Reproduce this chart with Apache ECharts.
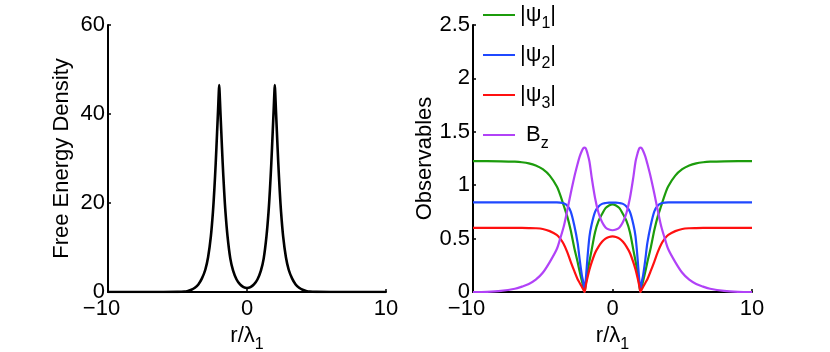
<!DOCTYPE html>
<html>
<head>
<meta charset="utf-8">
<script src="https://cdn.jsdelivr.net/npm/echarts@6/dist/echarts.min.js"></script>
<style>
  html, body { margin: 0; padding: 0; background: #fff; }
  #chart { width: 830px; height: 352px; }
</style>
</head>
<body>
<div id="chart"></div>
<script>
/*************************** chart data ***************************/

// left panel : free energy density vs r/lambda_1
var rFree = [-10, -8, -6, -5, -4.5, -4.25, -4, -3.75, -3.5, -3.25,
  -3, -2.8, -2.6, -2.45, -2.35, -2.25, -2.15, -2.08, -2.03, -2,
  -1.97, -1.92, -1.85, -1.75, -1.65, -1.55, -1.4, -1.2, -1, -0.75,
  -0.5, -0.25, 0, 0.25, 0.5,
  0.75, 1, 1.2, 1.4, 1.55, 1.65, 1.75, 1.85, 1.92, 1.97,
  2, 2.03, 2.08, 2.15, 2.25, 2.35, 2.45, 2.6, 2.8, 3,
  3.25, 3.5, 3.75, 4, 4.25, 4.5, 5, 6, 8, 10];
var freeEnergy = [0, 0, 0, 0.02, 0.1, 0.25, 0.5, 0.95, 1.7, 3.0,
  5.0, 7.8, 12.5, 18, 23, 29, 36, 41, 44.8, 46.5,
  44.8, 41, 36, 29, 23, 18, 12.5, 7.5, 4.8, 2.8,
  1.7, 1.1, 0.9, 1.1, 1.7,
  2.8, 4.8, 7.5, 12.5, 18, 23, 29, 36, 41, 44.8,
  46.5, 44.8, 41, 36, 29, 23, 18, 12.5, 7.8, 5.0,
  3.0, 1.7, 0.95, 0.5, 0.25, 0.1, 0.02, 0, 0, 0];

// right panel : observables vs r/lambda_1
var rObs = [-10, -9, -8, -7, -6.5, -6, -5.5, -5, -4.5, -4,
  -3.75, -3.5, -3.25, -3, -2.75, -2.5, -2.35, -2.2, -2.1, -2.05,
  -2, -1.95, -1.9, -1.8, -1.65, -1.5, -1.25, -1, -0.75, -0.5,
  -0.25, 0, 0.25,
  0.5, 0.75, 1, 1.25, 1.5, 1.65, 1.8, 1.9, 1.95, 2,
  2.05, 2.1, 2.2, 2.35, 2.5, 2.75, 3, 3.25, 3.5, 3.75,
  4, 4.5, 5, 5.5, 6, 6.5, 7, 8, 9, 10];
var psi1 = [1.225, 1.225, 1.224, 1.22, 1.215, 1.205, 1.185, 1.15, 1.09, 0.99,
  0.91, 0.81, 0.71, 0.58, 0.42, 0.28, 0.19, 0.105, 0.055, 0.028,
  0, 0.04, 0.09, 0.18, 0.29, 0.39, 0.56, 0.665, 0.73, 0.785,
  0.81, 0.82, 0.81,
  0.785, 0.73, 0.665, 0.56, 0.39, 0.29, 0.18, 0.09, 0.04, 0,
  0.028, 0.055, 0.105, 0.19, 0.28, 0.42, 0.58, 0.71, 0.81, 0.91,
  0.99, 1.09, 1.15, 1.185, 1.205, 1.215, 1.22, 1.224, 1.225, 1.225];
var psi2 = [0.84, 0.84, 0.84, 0.84, 0.84, 0.84, 0.84, 0.84, 0.84, 0.839,
  0.837, 0.83, 0.81, 0.755, 0.63, 0.46, 0.3, 0.16, 0.095, 0.05,
  0, 0.07, 0.14, 0.31, 0.52, 0.63, 0.75, 0.8, 0.825, 0.833,
  0.836, 0.836, 0.836,
  0.833, 0.825, 0.8, 0.75, 0.63, 0.52, 0.31, 0.14, 0.07, 0,
  0.05, 0.095, 0.16, 0.3, 0.46, 0.63, 0.755, 0.81, 0.83, 0.837,
  0.839, 0.84, 0.84, 0.84, 0.84, 0.84, 0.84, 0.84, 0.84, 0.84];
var psi3 = [0.6, 0.6, 0.6, 0.6, 0.6, 0.599, 0.597, 0.59, 0.57, 0.535,
  0.5, 0.45, 0.375, 0.285, 0.2, 0.12, 0.085, 0.05, 0.025, 0.012,
  0, 0.035, 0.07, 0.13, 0.21, 0.275, 0.365, 0.425, 0.47, 0.5,
  0.515, 0.52, 0.515,
  0.5, 0.47, 0.425, 0.365, 0.275, 0.21, 0.13, 0.07, 0.035, 0,
  0.012, 0.025, 0.05, 0.085, 0.12, 0.2, 0.285, 0.375, 0.45, 0.5,
  0.535, 0.57, 0.59, 0.597, 0.599, 0.6, 0.6, 0.6, 0.6, 0.6];
var bz = [0, 0.002, 0.01, 0.03, 0.05, 0.075, 0.115, 0.18, 0.28, 0.4,
  0.5, 0.61, 0.76, 0.92, 1.07, 1.2, 1.27, 1.32, 1.345, 1.35,
  1.352, 1.35, 1.34, 1.3, 1.22, 1.08, 0.88, 0.74, 0.655, 0.605,
  0.585, 0.578, 0.585,
  0.605, 0.655, 0.74, 0.88, 1.08, 1.22, 1.3, 1.34, 1.35, 1.352,
  1.35, 1.345, 1.32, 1.27, 1.2, 1.07, 0.92, 0.76, 0.61, 0.5,
  0.4, 0.28, 0.18, 0.115, 0.075, 0.05, 0.03, 0.01, 0.002, 0];

// legend entries (rich text for subscripts)
var seriesNames = ['psi1', 'psi2', 'psi3', 'Bz'];
var legendLabels = {
  psi1: '|\u03c8{sub|1}|',
  psi2: '|\u03c8{sub|2}|',
  psi3: '|\u03c8{sub|3}|',
  Bz: ' B{sub|z}'
};
var seriesColors = ['#1c9c0c', '#1f48ff', '#ff1010', '#b142f7'];

var yTicksLeft = { min: 0, max: 60, interval: 20 };
var yTicksRight = { min: 0, max: 2.5, interval: 0.5 };
var xTicks = { min: -10, max: 10, interval: 10 };

/*************************** chart code ***************************/

var FONT = 'Liberation Sans, Arial, Helvetica, sans-serif';
var FS = 22;
// subscript : smaller and pushed down without growing the line
var subStyle = { fontSize: 16, padding: [9, 0, -9, 0], fontFamily: FONT, color: '#000' };

function zip(xs, ys) {
  return xs.map(function (x, i) { return [x, ys[i]]; });
}

function makeXAxis(gridIndex) {
  return {
    type: 'value', gridIndex: gridIndex,
    min: xTicks.min, max: xTicks.max, interval: xTicks.interval,
    name: 'r/\u03bb{sub|1}', nameLocation: 'middle', nameGap: 27,
    nameTextStyle: { fontSize: FS, fontFamily: FONT, color: '#000', rich: { sub: subStyle } },
    axisLine: { show: true, onZero: false, lineStyle: { color: '#000', width: 2 } },
    axisTick: { show: true, inside: true, length: 3, lineStyle: { color: '#000', width: 1.5 } },
    axisLabel: {
      fontSize: FS, fontFamily: FONT, color: '#000', margin: 6,
      formatter: function (v) {
        return v < 0 ? '\u2212' + Math.abs(v) + '{pad| }' : String(v);
      },
      rich: { pad: { width: 13, fontSize: FS } }
    },
    splitLine: { show: false }
  };
}

function makeYAxis(gridIndex, ticks, name, gap) {
  return {
    type: 'value', gridIndex: gridIndex,
    min: ticks.min, max: ticks.max, interval: ticks.interval,
    name: name, nameLocation: 'middle', nameGap: gap,
    nameTextStyle: { fontSize: FS, fontFamily: FONT, color: '#000' },
    axisLine: { show: true, onZero: false, lineStyle: { color: '#000', width: 2 } },
    axisTick: { show: true, inside: true, length: 3, lineStyle: { color: '#000', width: 1.5 } },
    axisLabel: { fontSize: FS, fontFamily: FONT, color: '#000', margin: 3 },
    splitLine: { show: false }
  };
}

var obsData = [psi1, psi2, psi3, bz];

var series = [{
  type: 'line', xAxisIndex: 0, yAxisIndex: 0,
  data: zip(rFree, freeEnergy), smooth: 0.3, symbol: 'none',
  lineStyle: { color: '#000', width: 2.6 }
}];
seriesNames.forEach(function (name, i) {
  series.push({
    name: name, type: 'line', xAxisIndex: 1, yAxisIndex: 1,
    data: zip(rObs, obsData[i]), smooth: 0.3, symbol: 'none', showSymbol: false,
    color: seriesColors[i],
    lineStyle: { color: seriesColors[i], width: 2.2 }
  });
});

var chart = echarts.init(document.getElementById('chart'), null, { renderer: 'canvas' });
chart.setOption({
  animation: false,
  backgroundColor: '#fff',
  grid: [
    { left: 108, top: 25, width: 278, height: 267, outerBoundsMode: 'none', containLabel: false },
    { left: 473, top: 25, width: 279, height: 267, outerBoundsMode: 'none', containLabel: false }
  ],
  xAxis: [makeXAxis(0), makeXAxis(1)],
  yAxis: [
    makeYAxis(0, yTicksLeft, 'Free Energy Density', 35),
    makeYAxis(1, yTicksRight, 'Observables', 37)
  ],
  legend: {
    data: seriesNames, orient: 'vertical', left: 483, top: 4,
    padding: 0, icon: 'rect', itemWidth: 32, itemHeight: 2, itemGap: 12,
    formatter: function (name) { return legendLabels[name]; },
    textStyle: { fontSize: FS, fontFamily: FONT, color: '#000', rich: { sub: subStyle } }
  },
  series: series
});
</script>
</body>
</html>
